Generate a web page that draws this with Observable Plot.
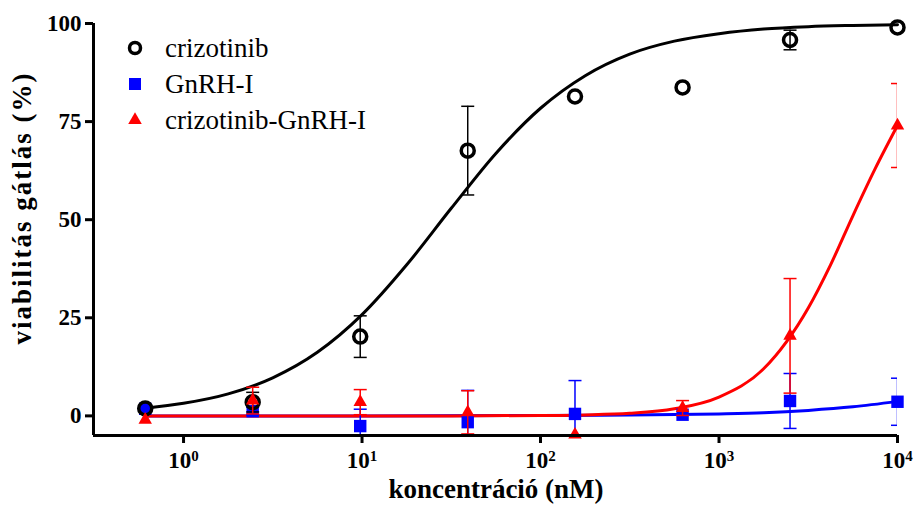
<!DOCTYPE html>
<html>
<head>
<meta charset="utf-8">
<script src="https://cdn.jsdelivr.net/npm/d3@7"></script>
<script src="https://cdn.jsdelivr.net/npm/@observablehq/plot@0.6"></script>
<style>
  html, body { margin: 0; padding: 0; background: #fff; }
  #wrap { position: relative; width: 915px; height: 508px; }
  #legend { position: absolute; left: 125px; top: 30px; font-family: "Liberation Serif", serif; font-size: 27px; color: #000; }
  #legend .row { display: flex; align-items: center; height: 36px; }
  #legend .row span { margin-left: 20px; }
  #legend svg { display: block; }
  svg text, svg tspan { font-family: "Liberation Serif", serif !important; }
</style>
</head>
<body>
<div id="wrap"><div id="chart"></div><div id="legend"></div></div>
<script>
// ---- data ----
const conc = [0.61, 2.44, 9.77, 39.1, 156, 625, 2500, 10000];

const crizMean = [1.9, 3.5, 20.2, 67.6, 81.4, 83.7, 95.8, 99.0];
const crizErr  = [0, 2.5, 5.3, 11.3, 0, 0, 2.5, 0];

const gnrhMean = [1.8, 1.2, -2.6, -1.6, 0.5, 0.3, 3.8, 3.6];
const gnrhErr  = [0, 1.0, 4.3, 8.1, 8.5, 0, 7.0, 6.0];

const conjMean = [-1.0, 3.9, 3.5, 0.9, -4.8, 2.0, 20.4, 74.0];
const conjErr  = [0, 3.4, 3.2, 5.5, 0, 1.9, 14.6, 10.7];

// fitted curves
const crizCurveX = [0.61, 1, 1.78, 3.16, 5.62, 10, 17.8, 31.6, 56.2, 100, 178, 316, 562, 1000, 1778, 3162, 5623, 10000];
const crizCurveY = [1.96, 3.2, 5.6, 9.7, 16.2, 25.8, 38.5, 52.9, 66.9, 78.4, 86.7, 92.2, 95.5, 97.4, 98.6, 99.2, 99.5, 99.7];

const gnrhCurveX = [0.61, 10, 100, 316, 1000, 1778, 3162, 5623, 10000];
const gnrhCurveY = [0, 0, 0.1, 0.2, 0.5, 0.8, 1.4, 2.3, 3.7];

const conjCurveX = [0.61, 1, 10, 31.6, 100, 178, 316, 562, 1000, 1778, 3162, 4217, 5623, 7499, 10000];
const conjCurveY = [0, 0, 0, 0, 0.1, 0.25, 0.65, 1.8, 4.8, 12.0, 27.5, 38.5, 51.0, 63.0, 74.0];

const seriesNames = ["crizotinib", "GnRH-I", "crizotinib-GnRH-I"];
const seriesColors = ["#000000", "#0000ff", "#ff0000"];

const xDomain = [0.313, 10000];
const yDomain = [-5, 100];
const xTicks = [1, 10, 100, 1000, 10000];
const xTickExps = ["0", "1", "2", "3", "4"];
const yTicks = [0, 25, 50, 75, 100];
const xTitle = "koncentráció (nM)";
const yTitle = "viabilitás gátlás (%)";

// ---- build tables ----
const pts = (means, errs) => conc.map((c, i) => ({x: c, y: means[i], lo: means[i] - errs[i], hi: means[i] + errs[i], e: errs[i]}));
const crizPts = pts(crizMean, crizErr);
const gnrhPts = pts(gnrhMean, gnrhErr);
const conjPts = pts(conjMean, conjErr);
const curve = (xs, ys) => xs.map((x, i) => ({x, y: ys[i]}));

const capSymbol = {
  draw(ctx, size) {
    const r = Math.sqrt(size / Math.PI);
    ctx.moveTo(-r, 0);
    ctx.lineTo(r, 0);
  }
};

function errMarks(data, color) {
  const d = data.filter(p => p.e > 0);
  return [
    Plot.ruleX(d, {x: "x", y1: "lo", y2: "hi", stroke: color, strokeWidth: 1.5, clip: true}),
    Plot.dot(d, {x: "x", y: "hi", symbol: capSymbol, r: 6.5, stroke: color, strokeWidth: 1.5, clip: true}),
    Plot.dot(d, {x: "x", y: "lo", symbol: capSymbol, r: 6.5, stroke: color, strokeWidth: 1.5, clip: true})
  ];
}

const serif = "Liberation Serif";

const chart = Plot.plot({
  width: 915,
  height: 508,
  marginLeft: 93,
  marginRight: 18,
  marginTop: 23,
  marginBottom: 73,
  style: {fontFamily: serif, background: "#fff", overflow: "visible"},
  x: {type: "log", domain: xDomain},
  y: {domain: yDomain},
  marks: [
    Plot.line(curve(gnrhCurveX, gnrhCurveY), {x: "x", y: "y", stroke: seriesColors[1], strokeWidth: 3, curve: "monotone-x"}),
    Plot.line(curve(crizCurveX, crizCurveY), {x: "x", y: "y", stroke: seriesColors[0], strokeWidth: 3, curve: "monotone-x"}),
    Plot.line(curve(conjCurveX, conjCurveY), {x: "x", y: "y", stroke: seriesColors[2], strokeWidth: 3, curve: "monotone-x"}),
    ...errMarks(gnrhPts, seriesColors[1]),
    Plot.dot(gnrhPts, {x: "x", y: "y", symbol: "square", r: 7, fill: seriesColors[1], stroke: "none"}),
    ...errMarks(crizPts, seriesColors[0]),
    Plot.dot(crizPts, {x: "x", y: "y", symbol: "circle", r: 6.5, fill: "none", stroke: seriesColors[0], strokeWidth: 3.5}),
    ...errMarks(conjPts, seriesColors[2]),
    Plot.dot(conjPts, {x: "x", y: "y", symbol: "triangle", r: 5, fill: seriesColors[2], stroke: "none"}),
    Plot.ruleX([xDomain[0]], {stroke: "#000", strokeWidth: 3}),
    Plot.ruleY([yDomain[0]], {stroke: "#000", strokeWidth: 3}),
    Plot.axisY({ticks: yTicks, tickSize: 8, tickPadding: 4, label: null, fontSize: 23, fontWeight: "bold", fontFamily: serif, strokeWidth: 3, tickFormat: d => String(d)}),
    Plot.axisX({ticks: xTicks, tickSize: 8, tickPadding: 8, label: null, fontSize: 23, fontWeight: "bold", fontFamily: serif, strokeWidth: 3,
      tickFormat: d => "10^" + xTickExps[xTicks.indexOf(d)]})
  ]
});

document.getElementById("chart").appendChild(chart);
const svg = d3.select(chart);
svg.style("display", "block");

// tick label styling
svg.selectAll("g[aria-label='y-axis tick label'] text, g[aria-label='x-axis tick label'] text")
  .attr("fill", "#000").attr("font-family", serif).style("font-weight", "bold").style("font-size", "23px");
svg.selectAll("g[aria-label='y-axis tick'] path, g[aria-label='x-axis tick'] path").attr("stroke", "#000").attr("stroke-width", 3);

// superscript exponents on x tick labels
svg.selectAll("g[aria-label='x-axis tick label'] text").each(function() {
  const t = d3.select(this);
  const s = t.text();
  const parts = s.split("^");
  if (parts.length === 2) {
    t.text(null);
    t.append("tspan").text(parts[0]);
    t.append("tspan").attr("dy", "-0.45em").style("font-size", "15px").text(parts[1]);
  }
});

// axis titles
svg.append("text")
  .attr("x", 496).attr("y", 498)
  .attr("text-anchor", "middle")
  .style("font-weight", "bold").style("font-size", "27px")
  .text(xTitle);
svg.append("text")
  .attr("transform", "translate(31,208) rotate(-90)")
  .attr("text-anchor", "middle")
  .style("font-weight", "bold").style("font-size", "27px")
  .style("letter-spacing", "2px")
  .text(yTitle);

// legend
const legend = d3.select("#legend");
const symbols = ["circle", "square", "triangle"];
seriesNames.forEach((name, i) => {
  const row = legend.append("div").attr("class", "row");
  const s = row.append("svg").attr("width", 20).attr("height", 20);
  const g = s.append("g").attr("transform", "translate(10,10)");
  if (symbols[i] === "circle") {
    g.append("circle").attr("r", 5.5).attr("fill", "none").attr("stroke", seriesColors[i]).attr("stroke-width", 3.5);
  } else if (symbols[i] === "square") {
    g.append("rect").attr("x", -6).attr("y", -6).attr("width", 12).attr("height", 12).attr("fill", seriesColors[i]);
  } else {
    g.append("path").attr("d", d3.symbol(d3.symbolTriangle, 80)()).attr("fill", seriesColors[i]);
  }
  row.append("span").text(name);
});
</script>
</body>
</html>
